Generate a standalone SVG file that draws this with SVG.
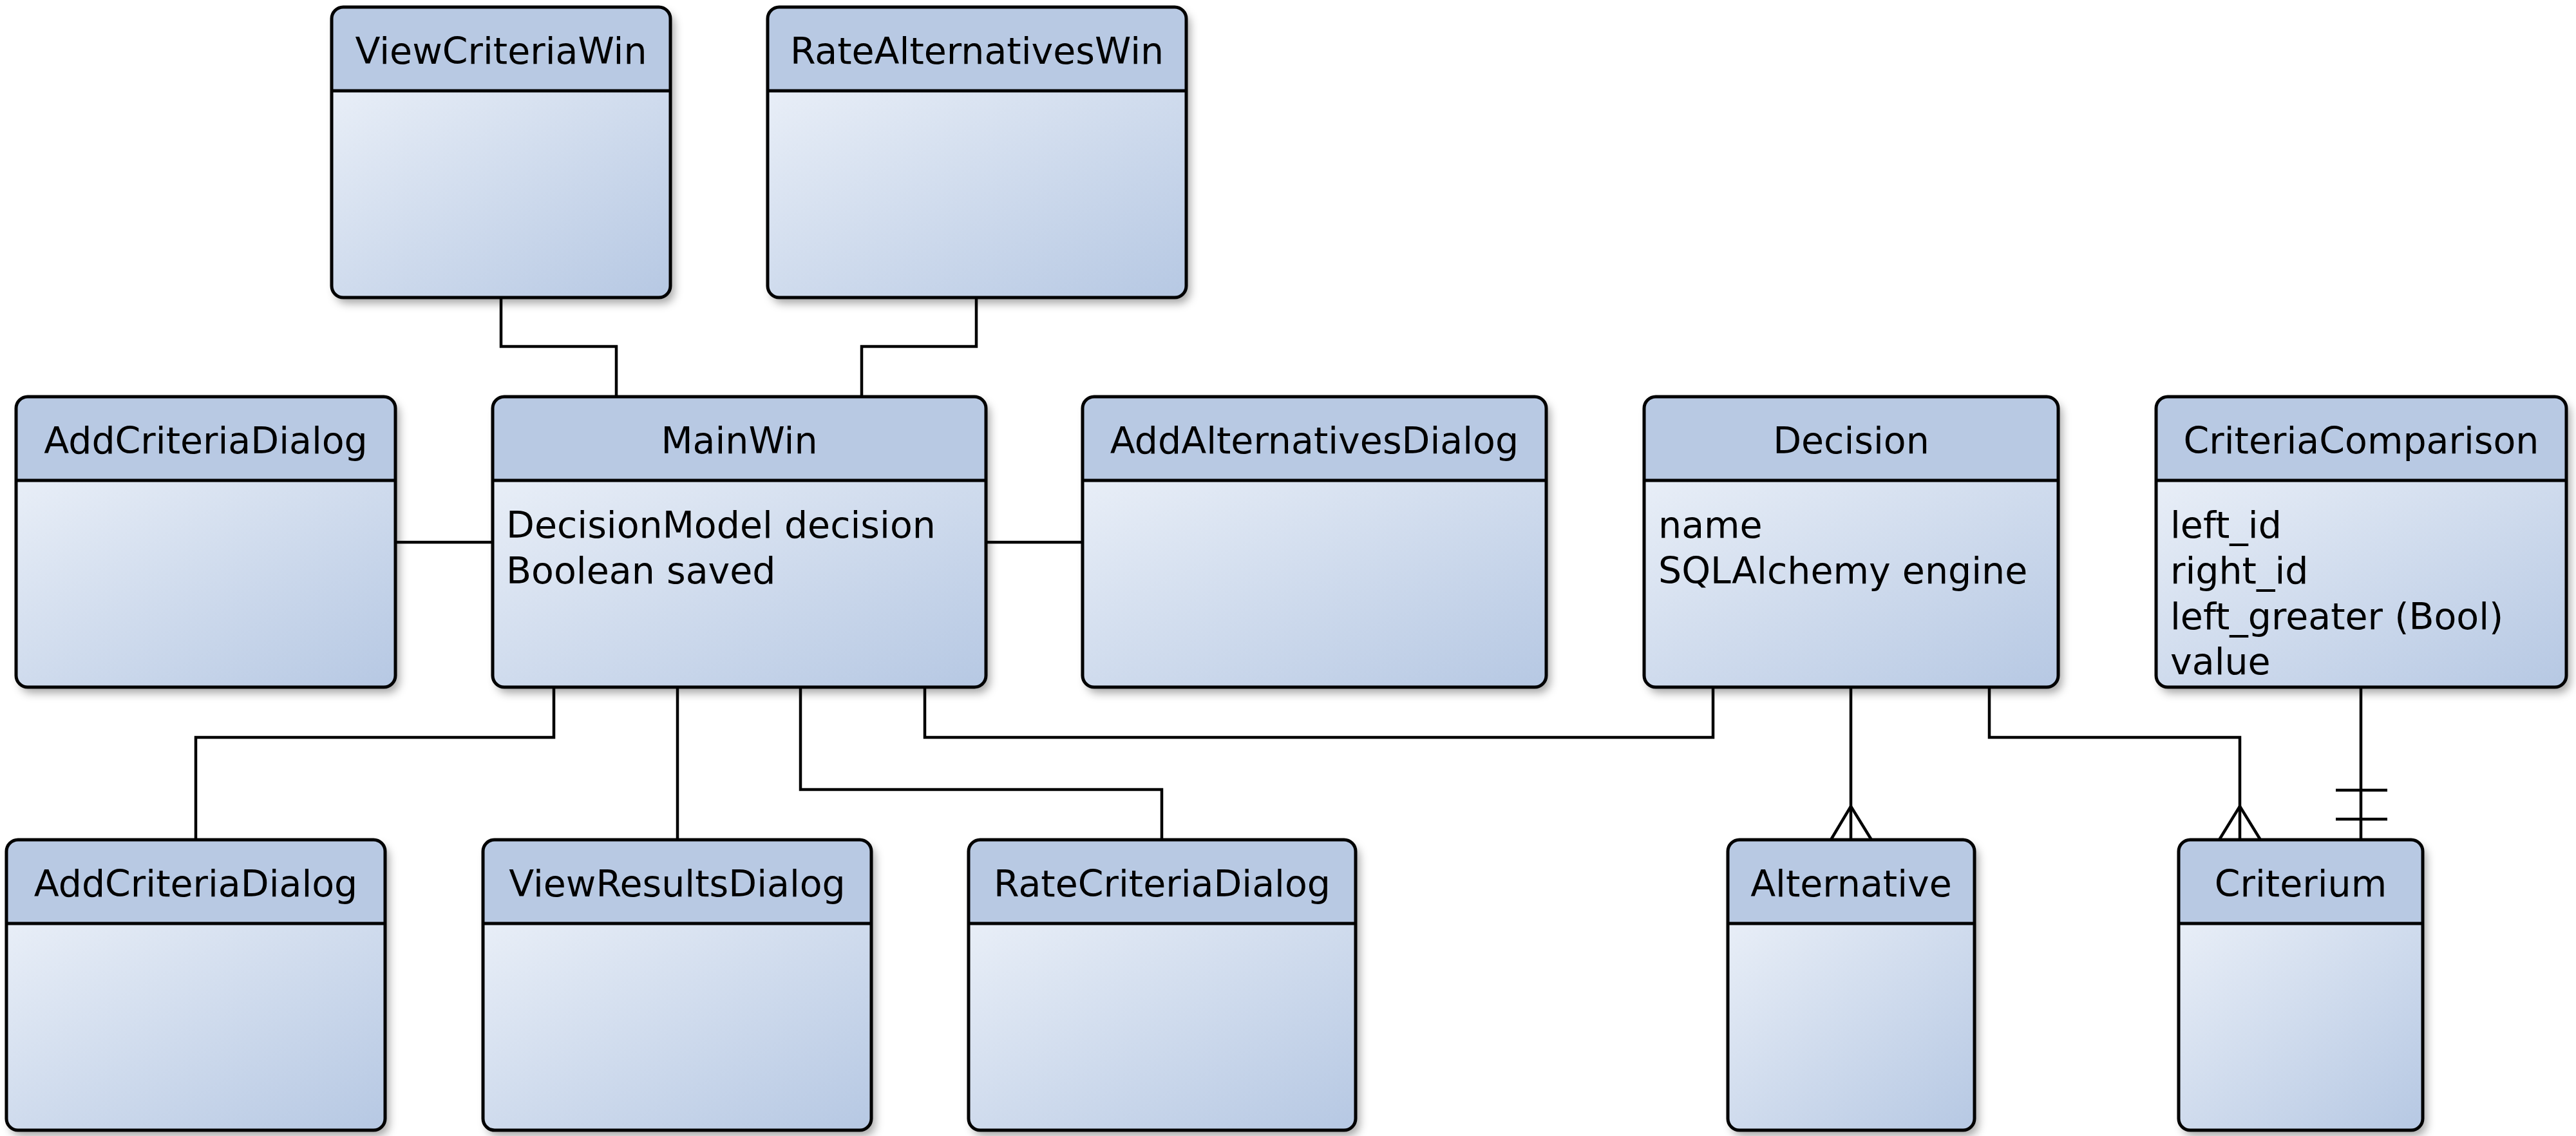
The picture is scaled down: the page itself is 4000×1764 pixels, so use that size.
<svg xmlns="http://www.w3.org/2000/svg" width="4000" height="1764" viewBox="0 0 4000 1764">
<style>
.box{fill:#b8c9e3;stroke:none;}
.body{fill:url(#g);}
.out{fill:none;stroke:#000;stroke-width:5;}
.sep{stroke:#000;stroke-width:5;}
.t{font-family:"DejaVu Sans",Verdana,sans-serif;font-size:57px;fill:#000;}
.h{text-anchor:middle;}
.con path{fill:none;stroke:#000;stroke-width:4.5;stroke-linejoin:miter;}
</style>
<defs>
<linearGradient id="g" x1="0" y1="0" x2="1" y2="1">
<stop offset="0" stop-color="#e8eef7"/>
<stop offset="1" stop-color="#b6c8e3"/>
</linearGradient>
<filter id="sh" x="-10%" y="-10%" width="125%" height="125%">
<feDropShadow dx="6" dy="9" stdDeviation="7" flood-color="#000" flood-opacity="0.35"/>
</filter>
</defs>
<rect width="4000" height="1764" fill="#fff"/>

<g id="connectors" class="con">
<path d="M778,462 V538 H957 V616"/>
<path d="M1516,462 V538 H1338 V616"/>
<path d="M614,842 H765"/>
<path d="M1531,842 H1681"/>
<path d="M860,1067 V1145 H304 V1304"/>
<path d="M1052,1067 V1304"/>
<path d="M1243,1067 V1226 H1804 V1304"/>
<path d="M1436,1067 V1145 H2660 V1067"/>
<path d="M2874,1067 V1304"/>
<path d="M2843,1304 L2874,1252 L2906,1304"/>
<path d="M3089,1067 V1145 H3478 V1304"/>
<path d="M3446,1304 L3478,1252 L3510,1304"/>
<path d="M3666,1067 V1304"/>
<path d="M3627,1227 H3707 M3627,1272 H3707"/>
</g>

<g id="ViewCriteriaWin">
<rect class="box" x="515" y="11" width="526" height="451" rx="18" filter="url(#sh)"/>
<path class="body" d="M515,141 H1041 V444 A18,18 0 0 1 1023,462 H533 A18,18 0 0 1 515,444 Z"/>
<line class="sep" x1="515" y1="141" x2="1041" y2="141"/>
<rect class="out" x="515" y="11" width="526" height="451" rx="18"/>
<text class="t h" x="778" y="99">ViewCriteriaWin</text>
</g>

<g id="RateAlternativesWin">
<rect class="box" x="1192" y="11" width="650" height="451" rx="18" filter="url(#sh)"/>
<path class="body" d="M1192,141 H1842 V444 A18,18 0 0 1 1824,462 H1210 A18,18 0 0 1 1192,444 Z"/>
<line class="sep" x1="1192" y1="141" x2="1842" y2="141"/>
<rect class="out" x="1192" y="11" width="650" height="451" rx="18"/>
<text class="t h" x="1517" y="99">RateAlternativesWin</text>
</g>

<g id="AddCriteriaDialogTop">
<rect class="box" x="25" y="616" width="589" height="451" rx="18" filter="url(#sh)"/>
<path class="body" d="M25,746 H614 V1049 A18,18 0 0 1 596,1067 H43 A18,18 0 0 1 25,1049 Z"/>
<line class="sep" x1="25" y1="746" x2="614" y2="746"/>
<rect class="out" x="25" y="616" width="589" height="451" rx="18"/>
<text class="t h" x="319.5" y="704">AddCriteriaDialog</text>
</g>

<g id="MainWin">
<rect class="box" x="765" y="616" width="766" height="451" rx="18" filter="url(#sh)"/>
<path class="body" d="M765,746 H1531 V1049 A18,18 0 0 1 1513,1067 H783 A18,18 0 0 1 765,1049 Z"/>
<line class="sep" x1="765" y1="746" x2="1531" y2="746"/>
<rect class="out" x="765" y="616" width="766" height="451" rx="18"/>
<text class="t h" x="1148" y="704">MainWin</text>
<text class="t" x="786" y="835">DecisionModel decision</text>
<text class="t" x="786" y="906">Boolean saved</text>
</g>

<g id="AddAlternativesDialog">
<rect class="box" x="1681" y="616" width="720" height="451" rx="18" filter="url(#sh)"/>
<path class="body" d="M1681,746 H2401 V1049 A18,18 0 0 1 2383,1067 H1699 A18,18 0 0 1 1681,1049 Z"/>
<line class="sep" x1="1681" y1="746" x2="2401" y2="746"/>
<rect class="out" x="1681" y="616" width="720" height="451" rx="18"/>
<text class="t h" x="2041" y="704">AddAlternativesDialog</text>
</g>

<g id="Decision">
<rect class="box" x="2553" y="616" width="643" height="451" rx="18" filter="url(#sh)"/>
<path class="body" d="M2553,746 H3196 V1049 A18,18 0 0 1 3178,1067 H2571 A18,18 0 0 1 2553,1049 Z"/>
<line class="sep" x1="2553" y1="746" x2="3196" y2="746"/>
<rect class="out" x="2553" y="616" width="643" height="451" rx="18"/>
<text class="t h" x="2874.5" y="704">Decision</text>
<text class="t" x="2575" y="835">name</text>
<text class="t" x="2575" y="906">SQLAlchemy engine</text>
</g>

<g id="CriteriaComparison">
<rect class="box" x="3348" y="616" width="637" height="451" rx="18" filter="url(#sh)"/>
<path class="body" d="M3348,746 H3985 V1049 A18,18 0 0 1 3967,1067 H3366 A18,18 0 0 1 3348,1049 Z"/>
<line class="sep" x1="3348" y1="746" x2="3985" y2="746"/>
<rect class="out" x="3348" y="616" width="637" height="451" rx="18"/>
<text class="t h" x="3666.5" y="704">CriteriaComparison</text>
<text class="t" x="3370" y="835">left_id</text>
<text class="t" x="3370" y="906">right_id</text>
<text class="t" x="3370" y="977">left_greater (Bool)</text>
<text class="t" x="3370" y="1047">value</text>
</g>

<g id="AddCriteriaDialogBottom">
<rect class="box" x="10" y="1304" width="588" height="451" rx="18" filter="url(#sh)"/>
<path class="body" d="M10,1434 H598 V1737 A18,18 0 0 1 580,1755 H28 A18,18 0 0 1 10,1737 Z"/>
<line class="sep" x1="10" y1="1434" x2="598" y2="1434"/>
<rect class="out" x="10" y="1304" width="588" height="451" rx="18"/>
<text class="t h" x="304" y="1392">AddCriteriaDialog</text>
</g>

<g id="ViewResultsDialog">
<rect class="box" x="750" y="1304" width="603" height="451" rx="18" filter="url(#sh)"/>
<path class="body" d="M750,1434 H1353 V1737 A18,18 0 0 1 1335,1755 H768 A18,18 0 0 1 750,1737 Z"/>
<line class="sep" x1="750" y1="1434" x2="1353" y2="1434"/>
<rect class="out" x="750" y="1304" width="603" height="451" rx="18"/>
<text class="t h" x="1051.5" y="1392">ViewResultsDialog</text>
</g>

<g id="RateCriteriaDialog">
<rect class="box" x="1504" y="1304" width="601" height="451" rx="18" filter="url(#sh)"/>
<path class="body" d="M1504,1434 H2105 V1737 A18,18 0 0 1 2087,1755 H1522 A18,18 0 0 1 1504,1737 Z"/>
<line class="sep" x1="1504" y1="1434" x2="2105" y2="1434"/>
<rect class="out" x="1504" y="1304" width="601" height="451" rx="18"/>
<text class="t h" x="1804.5" y="1392">RateCriteriaDialog</text>
</g>

<g id="Alternative">
<rect class="box" x="2683" y="1304" width="383" height="451" rx="18" filter="url(#sh)"/>
<path class="body" d="M2683,1434 H3066 V1737 A18,18 0 0 1 3048,1755 H2701 A18,18 0 0 1 2683,1737 Z"/>
<line class="sep" x1="2683" y1="1434" x2="3066" y2="1434"/>
<rect class="out" x="2683" y="1304" width="383" height="451" rx="18"/>
<text class="t h" x="2874.5" y="1392">Alternative</text>
</g>

<g id="Criterium">
<rect class="box" x="3383" y="1304" width="379" height="451" rx="18" filter="url(#sh)"/>
<path class="body" d="M3383,1434 H3762 V1737 A18,18 0 0 1 3744,1755 H3401 A18,18 0 0 1 3383,1737 Z"/>
<line class="sep" x1="3383" y1="1434" x2="3762" y2="1434"/>
<rect class="out" x="3383" y="1304" width="379" height="451" rx="18"/>
<text class="t h" x="3572.5" y="1392">Criterium</text>
</g>
</svg>
